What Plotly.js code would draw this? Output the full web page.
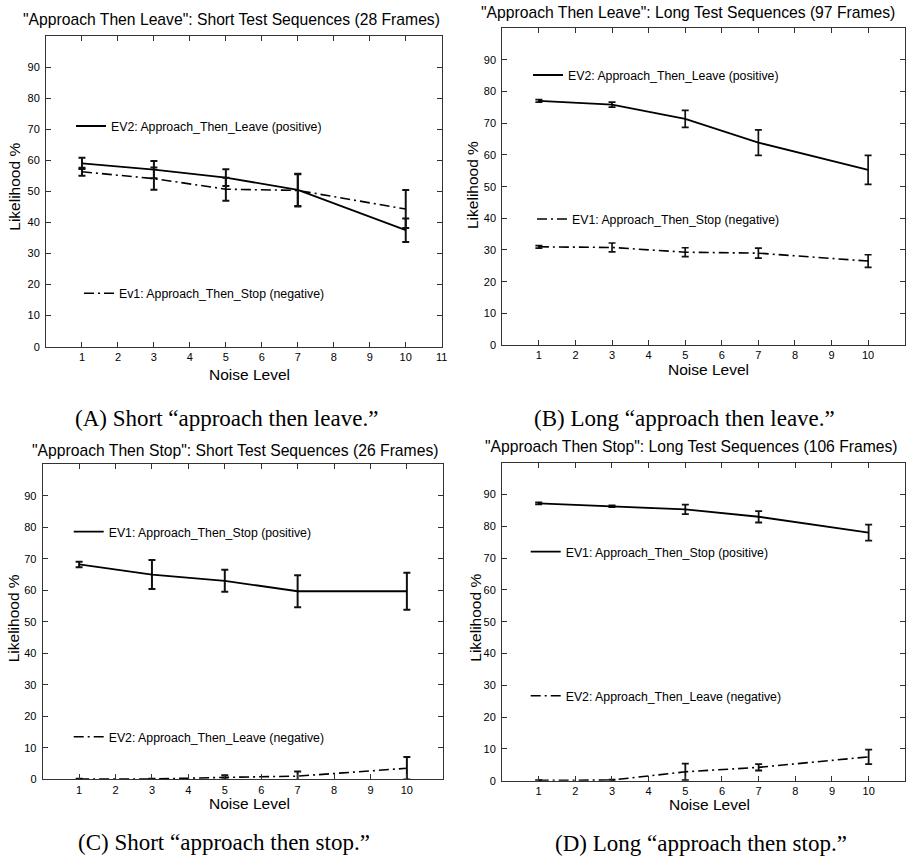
<!DOCTYPE html>
<html>
<head>
<meta charset="utf-8">
<script src="https://cdn.plot.ly/plotly-3.0.1.min.js"></script>
<style>
html,body{margin:0;padding:0;background:#fff;}
#chart{width:906px;height:858px;}
</style>
</head>
<body>
<div id="chart"></div>
<script>
// ---- data ----
const noiseLevels = [1, 3, 5, 7, 10];

// (A) short "approach then leave"
const aPos = [59.0, 57.0, 54.4, 50.5, 37.5];
const aPosErr = [1.8, 2.8, 2.7, 5.2, 3.8];
const aNeg = [56.3, 54.1, 50.7, 50.3, 44.3];
const aNegErr = [1.3, 3.6, 3.7, 5.2, 6.1];

// (B) long "approach then leave"
const bPos = [77.1, 75.9, 71.4, 63.9, 55.3];
const bPosErr = [0.4, 0.8, 2.7, 4.0, 4.6];
const bNeg = [31.0, 30.8, 29.3, 29.0, 26.5];
const bNegErr = [0.4, 1.4, 1.4, 1.6, 2.0];

// (C) short "approach then stop"
const cPos = [68.2, 65.0, 63.0, 59.7, 59.7];
const cPosErr = [0.9, 4.6, 3.5, 5.1, 5.9];
const cNeg = [0.1, 0.1, 0.6, 1.0, 3.5];
const cNegErr = [0.1, 0.1, 0.7, 1.5, 3.6];

// (D) long "approach then stop"
const dPos = [87.2, 86.3, 85.3, 83.0, 78.0];
const dPosErr = [0.3, 0.3, 1.5, 1.8, 2.5];
const dNeg = [0.1, 0.2, 2.8, 4.2, 7.5];
const dNegErr = [0.1, 0.1, 2.6, 1.0, 2.3];

const yTicks = [0, 10, 20, 30, 40, 50, 60, 70, 80, 90];
const xTicksA = [1, 2, 3, 4, 5, 6, 7, 8, 9, 10, 11];
const xTicksOther = [1, 2, 3, 4, 5, 6, 7, 8, 9, 10];

const panelTitles = [
  '"Approach Then Leave": Short Test Sequences (28 Frames)',
  '"Approach Then Leave": Long Test Sequences (97 Frames)',
  '"Approach Then Stop": Short Test Sequences (26 Frames)',
  '"Approach Then Stop": Long Test Sequences (106 Frames)'
];
const captions = [
  '(A) Short \u201Capproach then leave.\u201D',
  '(B) Long \u201Capproach then leave.\u201D',
  '(C) Short \u201Capproach then stop.\u201D',
  '(D) Long \u201Capproach then stop.\u201D'
];
const legendNames = [
  'EV2: Approach_Then_Leave (positive)',
  'Ev1: Approach_Then_Stop (negative)',
  'EV2: Approach_Then_Leave (positive)',
  'EV1: Approach_Then_Stop (negative)',
  'EV1: Approach_Then_Stop (positive)',
  'EV2: Approach_Then_Leave (negative)',
  'EV1: Approach_Then_Stop (positive)',
  'EV2: Approach_Then_Leave (negative)'
];

// ---- layout helpers ----
const W = 906, H = 858;
const px = v => v / W;
const py = v => 1 - v / H;
const SANS = '"Liberation Sans", Arial, Helvetica, sans-serif';
const SERIF = '"Liberation Serif", "Times New Roman", serif';
const DASHDOT = '10px,4px,2px,4px';

function tr(y, err, xa, ya, name, dash, leg, ew) {
  return {
    x: noiseLevels, y: y, xaxis: xa, yaxis: ya, name: name,
    type: 'scatter', mode: 'lines', legend: leg, showlegend: true,
    line: {color: '#000', width: dash ? 1.6 : 1.8, dash: dash || 'solid'},
    error_y: {type: 'data', array: err, visible: true, color: '#111', thickness: ew || 2, width: 3.5}
  };
}

const data = [
  tr(aPos, aPosErr, 'x', 'y', legendNames[0], null, 'legend'),
  tr(aNeg, aNegErr, 'x', 'y', legendNames[1], DASHDOT, 'legend2'),
  tr(bPos, bPosErr, 'x2', 'y2', legendNames[2], null, 'legend3', 1.7),
  tr(bNeg, bNegErr, 'x2', 'y2', legendNames[3], DASHDOT, 'legend4', 1.7),
  tr(cPos, cPosErr, 'x3', 'y3', legendNames[4], null, 'legend5'),
  tr(cNeg, cNegErr, 'x3', 'y3', legendNames[5], DASHDOT, 'legend6'),
  tr(dPos, dPosErr, 'x4', 'y4', legendNames[6], null, 'legend7', 1.8),
  tr(dNeg, dNegErr, 'x4', 'y4', legendNames[7], DASHDOT, 'legend8', 1.8)
];

// plot-area boxes in pixels [left, right, top, bottom]
const boxes = [
  [46, 441.7, 36, 346.7],
  [502.3, 904.7, 28.3, 345],
  [42.7, 443.3, 464.3, 779.3],
  [502, 905.3, 462.7, 780.7]
];

function xaxis(box, ticks, anchor) {
  return {
    domain: [px(box[0]), px(box[1])], anchor: anchor,
    range: [0, 11], tickmode: 'array', tickvals: ticks, ticktext: ticks.map(String),
    ticks: 'inside', ticklen: 5, tickwidth: 1, tickcolor: '#333',
    showline: true, linecolor: '#333', linewidth: 1, mirror: 'ticks',
    showgrid: false, zeroline: false,
    tickfont: {family: SANS, size: 11, color: '#000'}
  };
}
function yaxis(box, anchor) {
  return {
    domain: [py(box[3]), py(box[2])], anchor: anchor,
    range: [0, 100], tickmode: 'array', tickvals: yTicks, ticktext: yTicks.map(String),
    ticks: 'inside', ticklen: 5, tickwidth: 1, tickcolor: '#333',
    showline: true, linecolor: '#333', linewidth: 1, mirror: 'ticks',
    showgrid: false, zeroline: false, ticklabelstandoff: 3,
    tickfont: {family: SANS, size: 11, color: '#000'}
  };
}

const annotations = [];
function ann(text, x, y, size, family, angle) {
  annotations.push({
    text: text, xref: 'paper', yref: 'paper', x: px(x), y: py(y),
    xanchor: 'center', yanchor: 'middle', showarrow: false,
    textangle: angle || 0,
    font: {family: family, size: size, color: '#000'}
  });
}
// titles
ann(panelTitles[0], 231, 19.5, 15.7, SANS);
ann(panelTitles[1], 687.7, 13, 15.7, SANS);
ann(panelTitles[2], 234.7, 450, 15.7, SANS);
ann(panelTitles[3], 691, 446, 15.7, SANS);
// x-axis titles
ann('Noise Level', 249, 374.3, 15.5, SANS);
ann('Noise Level', 708, 370, 15.5, SANS);
ann('Noise Level', 249, 803.3, 15.5, SANS);
ann('Noise Level', 709, 804, 15.5, SANS);
// y-axis titles
ann('Likelihood %', 15, 186.7, 15.5, SANS, -90);
ann('Likelihood %', 473, 185, 15.5, SANS, -90);
ann('Likelihood %', 13.3, 618, 15.5, SANS, -90);
ann('Likelihood %', 474.7, 618, 15.5, SANS, -90);
// captions
ann(captions[0], 226.7, 418, 23, SERIF);
ann(captions[1], 684, 418, 23, SERIF);
ann(captions[2], 223.7, 842, 23, SERIF);
ann(captions[3], 701, 843, 23, SERIF);

function leg(textStartX, yc) {
  return {
    x: px(textStartX - 40), y: py(yc), xanchor: 'left', yanchor: 'middle',
    bgcolor: 'rgba(0,0,0,0)', borderwidth: 0, itemwidth: 30,
    font: {family: SANS, size: 12.3, color: '#000'}
  };
}

const layout = {
  width: W, height: H,
  margin: {l: 0, r: 0, t: 0, b: 0},
  paper_bgcolor: '#fff', plot_bgcolor: '#fff',
  xaxis: xaxis(boxes[0], xTicksA, 'y'),
  yaxis: yaxis(boxes[0], 'x'),
  xaxis2: xaxis(boxes[1], xTicksOther, 'y2'),
  yaxis2: yaxis(boxes[1], 'x2'),
  xaxis3: xaxis(boxes[2], xTicksOther, 'y3'),
  yaxis3: yaxis(boxes[2], 'x3'),
  xaxis4: xaxis(boxes[3], xTicksOther, 'y4'),
  yaxis4: yaxis(boxes[3], 'x4'),
  legend: leg(111, 126),
  legend2: leg(119, 293.3),
  legend3: leg(568, 75),
  legend4: leg(572, 219),
  legend5: leg(108.7, 531.7),
  legend6: leg(108.7, 736.7),
  legend7: leg(565.7, 551.7),
  legend8: leg(565.7, 695.7),
  annotations: annotations,
  showlegend: true
};

Plotly.newPlot('chart', data, layout, {staticPlot: true, displayModeBar: false});
</script>
</body>
</html>
